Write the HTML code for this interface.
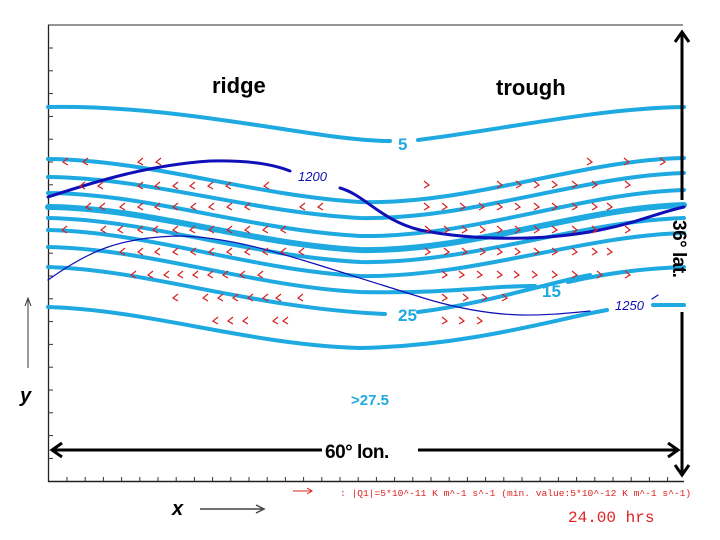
<!DOCTYPE html>
<html><head><meta charset="utf-8"><style>
html,body{margin:0;padding:0;background:#fff;}
svg{display:block;}
</style></head><body>
<svg id="s" width="720" height="540" viewBox="0 0 720 540" xmlns="http://www.w3.org/2000/svg" font-family="Liberation Sans, sans-serif">
<rect width="720" height="540" fill="#fff"/>
<line x1="48" y1="25" x2="683" y2="25" stroke="#555" stroke-width="1.2"/>
<line x1="48.5" y1="25" x2="48.5" y2="482" stroke="#222" stroke-width="1.3"/>
<line x1="48" y1="481.5" x2="684" y2="481.5" stroke="#222" stroke-width="1.5"/>
<g id="ticks" stroke="#333" stroke-width="1"></g>
<g fill="none" stroke="#1fa9e1" stroke-width="4" stroke-linecap="round">
<path d="M48,107 C150,105 250,125 330,136 C360,140 375,141 390,141 M418,140 C500,130 600,108 684,107"/>
<path d="M48,159 C150,160 250,195 360,202 C470,205 580,160 684,158"/>
<path d="M48,177 C150,178 250,212 360,218 C470,220 580,176 684,173"/>
<path d="M48,193 C150,194 250,230 360,236 C470,238 580,193 684,190"/>
<path d="M48,207 C150,208 250,244 360,250 C470,252 580,208 684,205" stroke-width="6"/>
<path d="M48,218 C150,220 250,256 360,262 C470,264 580,221 684,218"/>
<path d="M48,230 C150,232 250,270 360,276 C470,278 580,236 684,233"/>
<path d="M48,247 C150,249 250,286 360,292 C450,294 500,285 535,286 M568,282 C620,270 660,268 684,267"/>
<path d="M48,267 C150,270 250,308 385,314 M418,312 C480,305 560,280 590,275"/>
<path d="M48,307 C150,310 250,345 360,348 C470,346 560,318 607,310 M653,305 L684,305"/>
</g>
<g fill="none" stroke="#1010b8" stroke-linecap="round">
<path d="M48,197 C100,180 150,165 210,161 C250,160 275,165 290,171" stroke-width="3"/>
<path d="M340,188 C365,195 380,220 420,230 C470,240 540,242 600,230 C640,222 660,212 684,207" stroke-width="3"/>
<path d="M48,280 C90,250 120,238 175,236 C240,236 300,260 430,300 C500,320 540,316 590,311" stroke-width="1.2"/>
<path d="M652,299 L658,295" stroke-width="1.2"/>
</g>
<g font-style="italic" fill="#1010b8" font-size="13">
<text x="298" y="181">1200</text>
<text x="615" y="310">1250</text>
</g>
<g fill="#1fa9e1" font-weight="bold" font-size="17">
<text x="398" y="150">5</text>
<text x="542" y="297">15</text>
<text x="398" y="321">25</text>
<text x="351" y="405" font-size="15">&gt;27.5</text>
</g>
<g fill="#000" font-weight="bold" font-size="22">
<text x="212" y="93">ridge</text>
<text x="496" y="95">trough</text>
</g>
<g stroke="#000" stroke-width="3" fill="none">
<line x1="682" y1="32" x2="682" y2="200"/>
<polyline points="675,42 682,32 689,42"/>
<line x1="682" y1="312" x2="682" y2="475"/>
<polyline points="675,465 682,475 689,465"/>
<line x1="52" y1="450" x2="322" y2="450"/>
<polyline points="62,443 52,450 62,457"/>
<line x1="418" y1="450" x2="678" y2="450"/>
<polyline points="668,443 678,450 668,457"/>
</g>
<text x="325" y="458" font-weight="bold" font-size="19" fill="#000" letter-spacing="-0.5">60° lon.</text>
<text transform="translate(673,220) rotate(90)" font-weight="bold" font-size="19" fill="#000" letter-spacing="-0.5">36° lat.</text>
<text x="20" y="402" font-weight="bold" font-style="italic" font-size="20">y</text>
<line x1="28" y1="368" x2="28" y2="300" stroke="#333" stroke-width="1"/>
<polyline points="25,306 28,298 31,306" fill="none" stroke="#333"/>
<text x="172" y="515" font-weight="bold" font-style="italic" font-size="20">x</text>
<line x1="200" y1="509" x2="263" y2="509" stroke="#444" stroke-width="1.5"/>
<polyline points="256,505 264,509 256,513" fill="none" stroke="#444" stroke-width="1.5"/>
<line x1="293" y1="491" x2="312" y2="491" stroke="#d22" stroke-width="1"/>
<polyline points="307,488 312,491 307,494" fill="none" stroke="#d22"/>
<text x="340" y="496" font-family="Liberation Mono, monospace" font-size="9.6" fill="#d22">: |Q1|=5*10^-11 K m^-1 s^-1 (min. value:5*10^-12 K m^-1 s^-1)</text>
<text x="568" y="522" font-family="Liberation Mono, monospace" font-size="16" fill="#d22">24.00  hrs</text>
<g id="arr" fill="none" stroke="#d42020" stroke-width="1.2"></g>
</svg>
<script>
var NS="http://www.w3.org/2000/svg";
var t=document.getElementById("ticks");
function ln(g,x1,y1,x2,y2){var l=document.createElementNS(NS,"line");l.setAttribute("x1",x1);l.setAttribute("y1",y1);l.setAttribute("x2",x2);l.setAttribute("y2",y2);g.appendChild(l);}
for(var y=48;y<470;y+=22.8)ln(t,48,y,53,y);
for(var x=67;x<684;x+=18.2)ln(t,x,481,x,477);
var a=document.getElementById("arr");
function ch(x,y,d){var p=document.createElementNS(NS,"polyline");
if(d<0)p.setAttribute("points",(x+3)+","+(y-4)+" "+(x-2)+","+y+" "+(x+3)+","+(y+3));
else p.setAttribute("points",(x-3)+","+(y-4)+" "+(x+2)+","+y+" "+(x-3)+","+(y+3));a.appendChild(p);}
var L=[[162,[65,85,140,158]],[186,[82,100,140,157,175,192,210,228,266]],[207,[88,102,122,140,157,175,193,211,229,247,302,320]],[230,[64,103,120,140,155,175,192,211,229,247,265,283]],[252,[122,140,157,175,193,211,229,247,265,283,301]],[275,[133,150,166,180,195,210,225,242,260]],[298,[175,205,220,235,250,265,278,300]],[321,[215,230,245,275,285]]];
var R=[[162,[590,627,663]],[185,[427,500,519,537,555,575,595,628]],[207,[427,445,463,482,500,518,537,555,575,595,610]],[230,[428,447,465,483,500,518,537,555,575,595,628]],[252,[428,447,465,483,500,518,537,555,575,595,610]],[275,[445,462,480,500,517,535,555,575,600,628]],[298,[445,466,485,505]],[321,[445,462,480]]];
L.forEach(function(r){r[1].forEach(function(x){ch(x,r[0],-1);});});
R.forEach(function(r){r[1].forEach(function(x){ch(x,r[0],1);});});
</script>
</body></html>
